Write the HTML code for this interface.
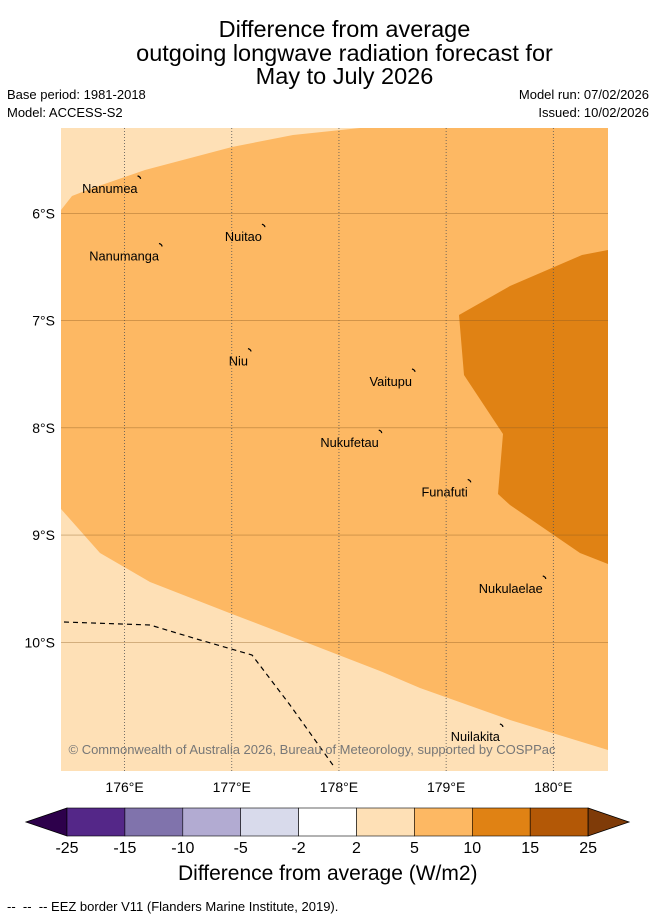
<!DOCTYPE html>
<html><head><meta charset="utf-8">
<style>
body{margin:0;background:#fff;font-family:"Liberation Sans",sans-serif;}
#wrap{position:relative;width:655px;height:919px;overflow:hidden;}
.t{position:absolute;white-space:nowrap;color:#000;}
</style></head>
<body>
<div id="wrap">
<div class="t" style="left:0;width:689px;top:18px;text-align:center;font-size:23.5px;line-height:23.5px;">Difference from average<br>outgoing longwave radiation forecast for<br>May to July 2026</div>
<div class="t" style="left:7px;top:87px;font-size:13px;">Base period: 1981-2018</div>
<div class="t" style="left:7px;top:105px;font-size:13px;">Model: ACCESS-S2</div>
<div class="t" style="right:6px;top:87px;font-size:13px;">Model run: 07/02/2026</div>
<div class="t" style="right:6px;top:105px;font-size:13px;">Issued: 10/02/2026</div>
<svg id="map" width="655" height="919" style="position:absolute;left:0;top:0"></svg>
<div class="t" style="left:178px;top:862px;font-size:21px;">Difference from average (W/m2)</div>
<div class="t" style="left:7px;top:899px;font-size:13px;">-- &nbsp;-- &nbsp;-- EEZ border V11 (Flanders Marine Institute, 2019).</div>
</div>
<script>
const lonTicks=[176,177,178,179,180];
const latTicks=[6,7,8,9,10];
const cbLabels=["-25","-15","-10","-5","-2","2","5","10","15","25"];
const cbColors=["#542788","#8073ac","#b2abd2","#d8daeb","#ffffff","#fee0b6","#fdb863","#e08214","#b35806"];
const islandNames=["Nanumea","Nuitao","Nanumanga","Niu","Vaitupu","Nukufetau","Funafuti","Nukulaelae","Nuilakita"];
const islandLon=[176.14,177.30,176.34,177.17,178.70,178.39,179.22,179.92,179.52];
const islandLat=[-5.67,-6.12,-6.30,-7.28,-7.47,-8.04,-8.50,-9.40,-10.78];
const MX0=61,MX1=608,MY0=128,MY1=771,LON0=175.407,LON1=180.51,LAT0=-5.205,LAT1=-11.2;
const X=lon=>MX0+(lon-LON0)/(LON1-LON0)*(MX1-MX0);
const Y=lat=>MY0+(lat-LAT0)/(LAT1-LAT0)*(MY1-MY0);
const svg=document.getElementById('map');
const NS='http://www.w3.org/2000/svg';
function mk(tag,attrs,parent){const e=document.createElementNS(NS,tag);for(const k in attrs)e.setAttribute(k,attrs[k]);(parent||svg).appendChild(e);return e;}
const P=pts=>pts.map(p=>p.join(',')).join(' ');
let e=mk('rect',{x:MX0,y:MY0,width:MX1-MX0,height:MY1-MY0,fill:'#fee0b6'});

e=mk('polygon',{fill:'#fdb863',points:P([[61,210],[72,196],[90,189],[145,170],[232,147],[293,135],[360,128],[608,128],[608,750],[510,720],[420,688],[380,671],[300,640],[232,614],[150,582],[100,553],[61,509]])});

e=mk('polygon',{fill:'#e08214',points:P([[459,315],[510,286],[582,255],[608,250],[608,564],[580,553],[510,505],[498,494],[503,434],[464,375]])});

lonTicks.forEach(l=>{const g=mk('line',{x1:X(l),x2:X(l),y1:MY0,y2:MY1,stroke:'#555','stroke-width':0.8,'stroke-dasharray':'1,2'});

const t=mk('text',{x:X(l),y:792,'font-size':14,'text-anchor':'middle','font-family':'Liberation Sans'});t.textContent=l+'°E';
});
latTicks.forEach(l=>{const g=mk('line',{x1:MX0,x2:MX1,y1:Y(-l),y2:Y(-l),stroke:'#8a5a20','stroke-width':0.6,'stroke-opacity':0.6});

const t=mk('text',{x:55,y:Y(-l)+5,'font-size':14,'text-anchor':'end','font-family':'Liberation Sans'});t.textContent=l+'°S';
});
e=mk('polyline',{fill:'none',stroke:'#000','stroke-width':1.2,'stroke-dasharray':'5,4',points:P([[64,622],[150,625],[200,640],[252,655],[290,705],[335,768]])});

islandNames.forEach((n,i)=>{const x=X(islandLon[i]),y=Y(islandLat[i]);
const m=mk('path',{d:`M${x-2},${y-2} q3,1 3,3`,stroke:'#000','stroke-width':1.2,fill:'none'});

const t=mk('text',{x:x-2,y:y+15,'font-size':12.8,'text-anchor':'end','font-family':'Liberation Sans'});t.textContent=n;
});
e=mk('text',{x:312,y:754,'font-size':13,'text-anchor':'middle',fill:'#777','font-family':'Liberation Sans'});e.textContent='© Commonwealth of Australia 2026, Bureau of Meteorology, supported by COSPPac';

const CB0=67,CBW=57.9,CBY=808,CBH=28;
e=mk('polygon',{points:P([[CB0,CBY],[26,CBY+CBH/2],[CB0,CBY+CBH]]),fill:'#2d004b',stroke:'#000','stroke-width':0.8});

cbColors.forEach((c,i)=>{const r=mk('rect',{x:CB0+i*CBW,y:CBY,width:CBW,height:CBH,fill:c,stroke:'#000','stroke-width':0.6});
});
const cbEnd=CB0+cbColors.length*CBW;
e=mk('polygon',{points:P([[cbEnd,CBY],[629,CBY+CBH/2],[cbEnd,CBY+CBH]]),fill:'#7f3b08',stroke:'#000','stroke-width':0.8});

cbLabels.forEach((l,i)=>{const t=mk('text',{x:CB0+i*CBW,y:853,'font-size':16,'text-anchor':'middle','font-family':'Liberation Sans'});t.textContent=l;
});
</script>
</body></html>
